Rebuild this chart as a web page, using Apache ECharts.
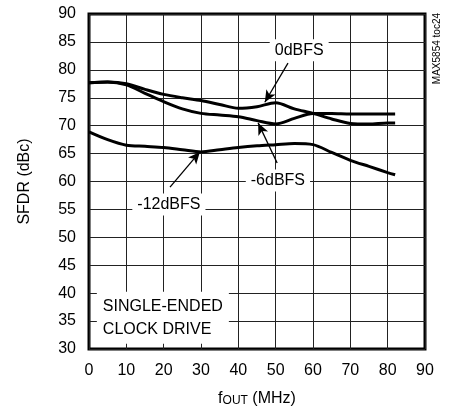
<!DOCTYPE html>
<html>
<head>
<meta charset="utf-8">
<script src="https://cdn.jsdelivr.net/npm/echarts@6/dist/echarts.min.js"></script>
<style>html,body{margin:0;padding:0;background:#fff;}#c{width:450px;height:408px;}</style>
</head>
<body>
<div id="c"></div>
<script>
var freq = [0, 5, 10, 15, 20, 25, 30, 35, 40, 45, 50, 55, 60, 65, 70, 75, 80, 82];
var sfdr0 = [77.7, 77.8, 77.5, 76.5, 75.6, 75.0, 74.5, 73.8, 73.1, 73.4, 74.1, 73.0, 72.2, 71.2, 70.4, 70.3, 70.5, 70.5];
var sfdr6 = [77.7, 77.8, 77.3, 75.8, 74.3, 73.0, 72.2, 71.9, 71.6, 70.9, 70.3, 71.3, 72.2, 72.2, 72.1, 72.1, 72.1, 72.1];
var sfdr12 = [68.9, 67.5, 66.5, 66.3, 66.1, 65.7, 65.3, 65.7, 66.1, 66.4, 66.6, 66.8, 66.6, 65.2, 63.8, 62.7, 61.6, 61.2];
var xTicks = [0, 10, 20, 30, 40, 50, 60, 70, 80, 90];
var yTicks = [30, 35, 40, 45, 50, 55, 60, 65, 70, 75, 80, 85, 90];
var labelTexts = ['0dBFS', '-6dBFS', '-12dBFS', 'SINGLE-ENDED\nCLOCK DRIVE'];
var labelAt = [[56.3, 83.5], [50.6, 60.2], [21.4, 55.9], [2.1, 35.6]];
var arrowFrom = [[53.3, 81.2], [50.4, 63.3], [21.7, 59.0]];
var arrowTo = [[47.1, 74.2], [45.3, 70.5], [29.7, 65.3]];

var FONT = "'Liberation Sans', Arial, Helvetica, sans-serif";
var FS = 16;

function pairs(ys) { return freq.map(function (f, i) { return [f, ys[i]]; }); }

var markPts = labelTexts.map(function (t, i) {
  var multi = t.indexOf('\n') >= 0;
  return {
    coord: labelAt[i], symbol: 'rect', symbolSize: 0,
    label: {
      show: true, position: 'inside', formatter: t, color: '#000',
      fontFamily: FONT, fontSize: FS, lineHeight: multi ? 23 : 20,
      align: multi ? 'left' : 'center',
      backgroundColor: '#fff', padding: multi ? [3, 6, 3, 6] : [1, 5, 1, 5]
    }
  };
});
var markLines = arrowFrom.map(function (a, i) {
  return [{ coord: a }, { coord: arrowTo[i] }];
});

var lineStyle = { color: '#000', width: 3 };
var chart = echarts.init(document.getElementById('c'), null, { renderer: 'canvas' });
chart.setOption({
  animation: false,
  backgroundColor: '#fff',
  grid: { left: 89, right: 25, top: 14, bottom: 59, outerBoundsMode: 'none', containLabel: false,
    show: true, borderColor: '#000', borderWidth: 3, backgroundColor: 'transparent' },
  xAxis: {
    type: 'value', min: xTicks[0], max: xTicks[xTicks.length - 1], interval: 10,
    axisLine: { show: false }, axisTick: { show: false },
    axisLabel: { color: '#000', fontFamily: FONT, fontSize: FS, margin: 14 },
    splitLine: { show: true, lineStyle: { color: '#222', width: 1 } },
    name: '{f|f}{s|OUT}{f| (MHz)}', nameLocation: 'middle', nameGap: 40,
    nameTextStyle: {
      color: '#000', fontFamily: FONT, fontSize: FS,
      rich: {
        f: { fontFamily: FONT, fontSize: FS, color: '#000', verticalAlign: 'bottom' },
        s: { fontFamily: FONT, fontSize: 12, color: '#000', verticalAlign: 'bottom', padding: [6, 0, 0, 0] }
      }
    }
  },
  yAxis: {
    type: 'value', min: yTicks[0], max: yTicks[yTicks.length - 1], interval: 5,
    axisLine: { show: false }, axisTick: { show: false },
    axisLabel: { color: '#000', fontFamily: FONT, fontSize: FS, margin: 13 },
    splitLine: { show: true, lineStyle: { color: '#222', width: 1 } },
    name: 'SFDR (dBc)', nameLocation: 'middle', nameGap: 56, nameRotate: 90,
    nameTextStyle: { color: '#000', fontFamily: FONT, fontSize: FS }
  },
  graphic: [{
    type: 'text', right: 8, top: 13, rotation: Math.PI / 2,
    style: { text: 'MAX5854 toc24', fill: '#000', font: "10px " + FONT }
  }],
  series: [
    { name: '0dBFS', type: 'line', data: pairs(sfdr0), smooth: 0.3, showSymbol: false, lineStyle: lineStyle, z: 3,
      markPoint: { silent: true, data: markPts, z: 5 },
      markLine: { silent: true, symbol: ['none', 'arrow'], symbolSize: [8, 12], label: { show: false },
        lineStyle: { color: '#000', width: 1.3, type: 'solid' }, data: markLines, z: 4 } },
    { name: '-6dBFS', type: 'line', data: pairs(sfdr6), smooth: 0.3, showSymbol: false, lineStyle: lineStyle, z: 3 },
    { name: '-12dBFS', type: 'line', data: pairs(sfdr12), smooth: 0.3, showSymbol: false, lineStyle: lineStyle, z: 3 }
  ]
});
</script>
</body>
</html>
